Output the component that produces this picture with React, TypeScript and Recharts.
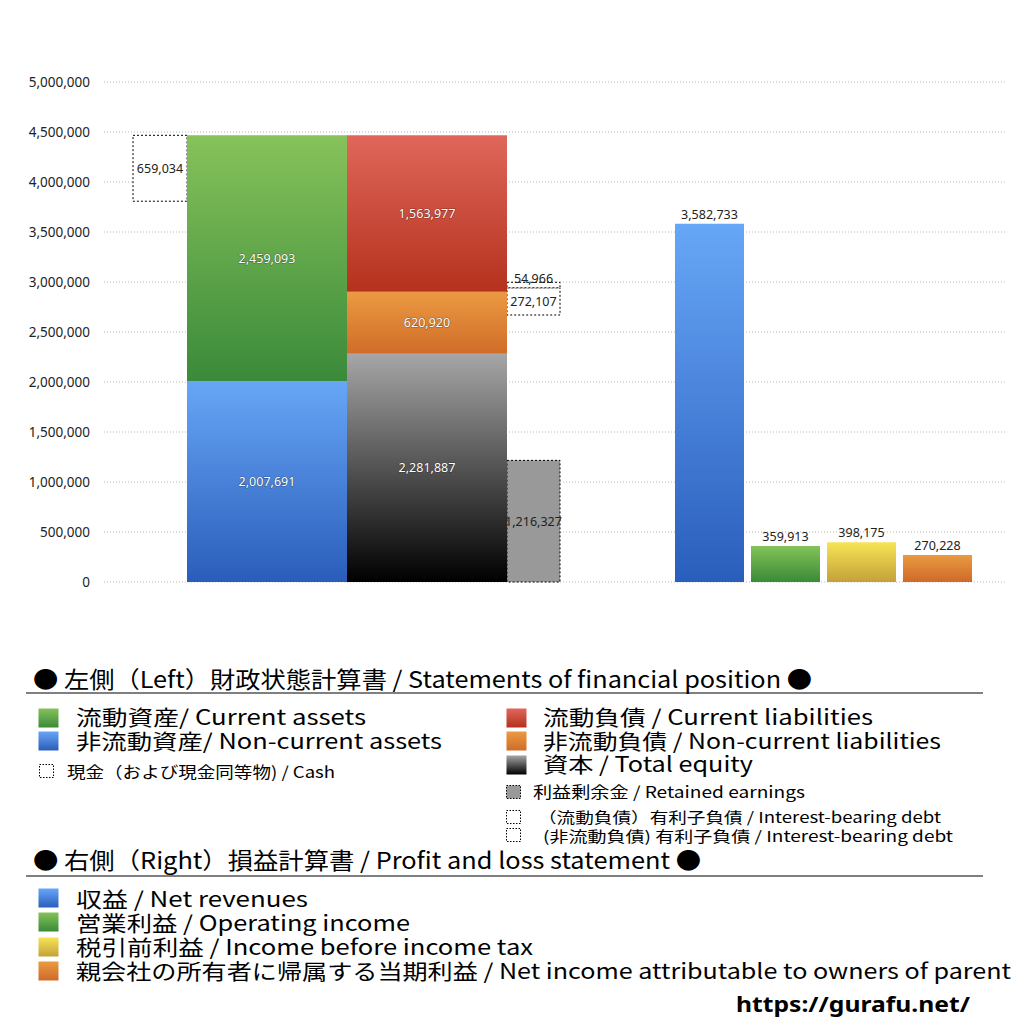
import React from 'react';
import { ComposedChart, XAxis, YAxis, CartesianGrid, ReferenceArea, Scatter } from 'recharts';

// ---------- data ----------
const yTicks = [0, 500000, 1000000, 1500000, 2000000, 2500000, 3000000, 3500000, 4000000, 4500000, 5000000];

// Left: statement of financial position (stacked bottom -> top)
const assetKeys = ['nonCurrentAssets', 'currentAssets'];
const assetValues = [2007691, 2459093];
const claimKeys = ['totalEquity', 'nonCurrentLiabilities', 'currentLiabilities'];
const claimValues = [2281887, 620920, 1563977];
const cashValue = 659034;
const retainedEarnings = 1216327;
const debtKeys = ['debtNonCurrent', 'debtCurrent'];
const debtValues = [272107, 54966];
const debtBase = 2670000;

// Right: profit and loss statement
const plKeys = ['revenue', 'operating', 'pretax', 'net'];
const plValues = [3582733, 359913, 398175, 270228];

// ---------- layout (pixels on the numeric x axis) ----------
const X_DOMAIN: [number, number] = [104, 1005];
const COL = {
  cash: [133, 187],
  assets: [187, 347],
  claims: [347, 507],
  side: [507, 560],
};
const PL_COLS = [
  [675, 744],
  [751, 820],
  [827, 896],
  [903, 972],
];

const GRADS: Record<string, [string, string]> = {
  currentAssets: ['#87c25b', '#3a8a3a'],
  nonCurrentAssets: ['#67a6f6', '#2a5dba'],
  currentLiabilities: ['#df675b', '#b5311d'],
  nonCurrentLiabilities: ['#eb9a42', '#d06c28'],
  totalEquity: ['#a6a6a6', '#000000'],
  revenue: ['#67a7f7', '#2a5ebc'],
  operating: ['#84c35a', '#3a8a37'],
  pretax: ['#f7e455', '#c3a139'],
  net: ['#e99b40', '#d0692a'],
};

const fmt = (v: number) => v.toLocaleString('en-US');
const FONT = '"Noto Sans", "Noto Sans CJK JP", sans-serif';
const JFONT = '"Noto Sans CJK JP", "Noto Sans", sans-serif';

function stack(values: number[], base = 0) {
  const out: [number, number][] = [];
  let acc = base;
  for (const v of values) {
    out.push([acc, acc + v]);
    acc += v;
  }
  return out;
}

// ---------- legend ----------
type Item = { text: string; x: number; y: number; w: number; size: number; sq?: { x: number; y: number; w: number; h: number; fill: string; dashed?: boolean } };

const legendHeaders = [
  { text: '● 左側（Left）財政状態計算書 / Statements of financial position ●', x: 33, y: 688, w: 779, size: 23, line: 693 },
  { text: '● 右側（Right）損益計算書 / Profit and loss statement ●', x: 33, y: 869, w: 668, size: 23, line: 876 },
];

const legendItems: Item[] = [
  { text: '流動資産/ Current assets', x: 76, y: 725, w: 290, size: 21, sq: { x: 38, y: 708, w: 21, h: 20, fill: 'url(#g-currentAssets)' } },
  { text: '非流動資産/ Non-current assets', x: 76, y: 749, w: 366, size: 21, sq: { x: 38, y: 731, w: 21, h: 20, fill: 'url(#g-nonCurrentAssets)' } },
  { text: '現金（および現金同等物) / Cash', x: 67, y: 778, w: 268, size: 16, sq: { x: 39, y: 764, w: 15, h: 14, fill: '#fff', dashed: true } },
  { text: '流動負債 /  Current liabilities', x: 543, y: 725, w: 330, size: 21, sq: { x: 506, y: 708, w: 21, h: 20, fill: 'url(#g-currentLiabilities)' } },
  { text: '非流動負債 / Non-current liabilities', x: 543, y: 749, w: 398, size: 21, sq: { x: 506, y: 731, w: 21, h: 20, fill: 'url(#g-nonCurrentLiabilities)' } },
  { text: '資本 / Total equity', x: 543, y: 772, w: 210, size: 21, sq: { x: 506, y: 755, w: 21, h: 20, fill: 'url(#g-totalEquity)' } },
  { text: '利益剰余金 / Retained earnings', x: 533, y: 798, w: 272, size: 16, sq: { x: 506, y: 785, w: 15, h: 14, fill: '#999', dashed: true } },
  { text: '（流動負債）有利子負債 / Interest-bearing debt', x: 538, y: 823, w: 403, size: 15, sq: { x: 506, y: 810, w: 15, h: 14, fill: '#fff', dashed: true } },
  { text: '(非流動負債) 有利子負債 / Interest-bearing debt', x: 543, y: 842, w: 410, size: 15, sq: { x: 506, y: 828, w: 15, h: 14, fill: '#fff', dashed: true } },
  { text: '収益 / Net revenues', x: 76, y: 907, w: 232, size: 21, sq: { x: 38, y: 888, w: 21, h: 20, fill: 'url(#g-revenue)' } },
  { text: '営業利益 / Operating income', x: 76, y: 931, w: 334, size: 21, sq: { x: 38, y: 912, w: 21, h: 20, fill: 'url(#g-operating)' } },
  { text: '税引前利益 / Income before income tax', x: 76, y: 955, w: 457, size: 21, sq: { x: 38, y: 937, w: 21, h: 20, fill: 'url(#g-pretax)' } },
  { text: '親会社の所有者に帰属する当期利益 / Net income attributable to owners of parent', x: 76, y: 979, w: 935, size: 21, sq: { x: 38, y: 961, w: 21, h: 20, fill: 'url(#g-net)' } },
];

function Gradients() {
  return (
    <defs>
      {Object.entries(GRADS).map(([k, [a, b]]) => (
        <linearGradient key={k} id={`g-${k}`} x1="0" y1="0" x2="0" y2="1">
          <stop offset="0%" stopColor={a} />
          <stop offset="100%" stopColor={b} />
        </linearGradient>
      ))}
    </defs>
  );
}

const whiteLabel = (v: number) => ({
  value: fmt(v),
  position: 'center' as const,
  fill: '#ffffff',
  fontSize: 12.5,
  fontFamily: FONT,
  stroke: 'rgba(0,0,0,0.35)',
  strokeWidth: 1.2,
  paintOrder: 'stroke',
});

const blackLabel = (v: number, position: any = 'center', offset = 5) => ({
  value: fmt(v),
  position,
  offset,
  fill: '#222',
  fontSize: 12.5,
  fontFamily: FONT,
});

// chart table built from the P&L arrays (used only to give the axes data)
const chartData = plKeys.map((k, i) => ({ key: k, x: (PL_COLS[i][0] + PL_COLS[i][1]) / 2, value: plValues[i] }));

export default function App() {
  const assetStack = stack(assetValues);
  const claimStack = stack(claimValues);
  const total = assetStack[assetStack.length - 1][1];
  const debtStack = stack(debtValues, debtBase);

  return (
    <div style={{ position: 'relative', width: 1024, height: 1024, background: '#fff', fontFamily: FONT }}>
      <style>{`body{margin:0;}`}</style>
      <div style={{ position: 'absolute', left: 0, top: 0 }}>
        <ComposedChart width={1024} height={620} data={chartData} margin={{ top: 82, right: 19, left: 0, bottom: 38 }}>
          <Gradients />
          <CartesianGrid vertical={false} stroke="#b8b8b8" strokeDasharray="1 2" />
          <XAxis type="number" dataKey="x" domain={X_DOMAIN} allowDataOverflow hide />
          <YAxis
            type="number"
            domain={[0, 5000000]}
            ticks={yTicks}
            interval={0}
            width={104}
            axisLine={false}
            tickLine={false}
            tickSize={6}
            tickMargin={8}
            tickFormatter={fmt}
            tick={{ fill: '#222', fontSize: 13.5, fontFamily: FONT }}
          />
          <YAxis
            yAxisId="right"
            orientation="right"
            type="number"
            domain={[0, 7]}
            ticks={[1, 2, 3, 4, 5, 6]}
            width={19}
            axisLine={false}
            mirror
            tickSize={3}
            tick={false}
            tickLine={{ stroke: '#aaa', strokeDasharray: '1 1' }}
          />
          <Scatter dataKey="value" fill="none" shape={() => null} isAnimationActive={false} legendType="none" />

          {/* cash box */}
          <ReferenceArea x1={COL.cash[0]} x2={COL.cash[1]} y1={total - cashValue} y2={total}
            fill="#fff" fillOpacity={1} stroke="#000" strokeDasharray="2 2" strokeWidth={1}
            label={blackLabel(cashValue)} ifOverflow="visible" />

          {/* retained earnings */}
          <ReferenceArea x1={COL.side[0]} x2={COL.side[1]} y1={0} y2={retainedEarnings}
            fill="#999" fillOpacity={1} stroke="#000" strokeDasharray="2 2" strokeWidth={1}
            label={blackLabel(retainedEarnings)} ifOverflow="visible" />

          {/* interest-bearing debt */}
          {debtKeys.map((k, i) => (
            <ReferenceArea key={k} x1={COL.side[0]} x2={COL.side[1]} y1={debtStack[i][0]} y2={debtStack[i][1]}
              fill="#fff" fillOpacity={1} stroke="#000" strokeDasharray="2 2" strokeWidth={1}
              label={i === 0 ? blackLabel(debtValues[i]) : blackLabel(debtValues[i], 'top', -1)} ifOverflow="visible" />
          ))}

          {/* assets */}
          {assetKeys.map((k, i) => (
            <ReferenceArea key={k} x1={COL.assets[0]} x2={COL.assets[1]} y1={assetStack[i][0]} y2={assetStack[i][1]}
              fill={`url(#g-${k})`} fillOpacity={1} stroke="none" label={whiteLabel(assetValues[i])} ifOverflow="visible" />
          ))}

          {/* liabilities + equity */}
          {claimKeys.map((k, i) => (
            <ReferenceArea key={k} x1={COL.claims[0]} x2={COL.claims[1]} y1={claimStack[i][0]} y2={claimStack[i][1]}
              fill={`url(#g-${k})`} fillOpacity={1} stroke="none" label={whiteLabel(claimValues[i])} ifOverflow="visible" />
          ))}

          {/* profit and loss */}
          {plKeys.map((k, i) => (
            <ReferenceArea key={k} x1={PL_COLS[i][0]} x2={PL_COLS[i][1]} y1={0} y2={plValues[i]}
              fill={`url(#g-${k})`} fillOpacity={1} stroke="none" label={blackLabel(plValues[i], 'top', 5)} ifOverflow="visible" />
          ))}
        </ComposedChart>
      </div>

      <svg width={1024} height={1024} style={{ position: 'absolute', left: 0, top: 0, pointerEvents: 'none' }}>
        <Gradients />
        {legendHeaders.map((h) => (
          <g key={h.text}>
            <text x={h.x} y={h.y} fontSize={h.size} fontFamily={JFONT} fill="#000" textLength={h.w} lengthAdjust="spacingAndGlyphs">{h.text}</text>
            <line x1={26} x2={983} y1={h.line} y2={h.line} stroke="#000" strokeWidth={1} />
          </g>
        ))}
        {legendItems.map((it) => (
          <g key={it.text}>
            {it.sq && (
              <rect x={it.sq.x + 0.5} y={it.sq.y + 0.5} width={it.sq.w - 1} height={it.sq.h - 1} fill={it.sq.fill}
                stroke={it.sq.dashed ? '#000' : 'none'} strokeDasharray={it.sq.dashed ? '1.5 1.5' : undefined} strokeWidth={1} />
            )}
            <text x={it.x} y={it.y} fontSize={it.size} fontFamily={JFONT} fill="#000" textLength={it.w} lengthAdjust="spacingAndGlyphs">{it.text}</text>
          </g>
        ))}
        <text x={736} y={1012} fontSize={22} fontWeight="bold" fontFamily={FONT} fill="#000" textLength={234} lengthAdjust="spacingAndGlyphs">https://gurafu.net/</text>
      </svg>
    </div>
  );
}
